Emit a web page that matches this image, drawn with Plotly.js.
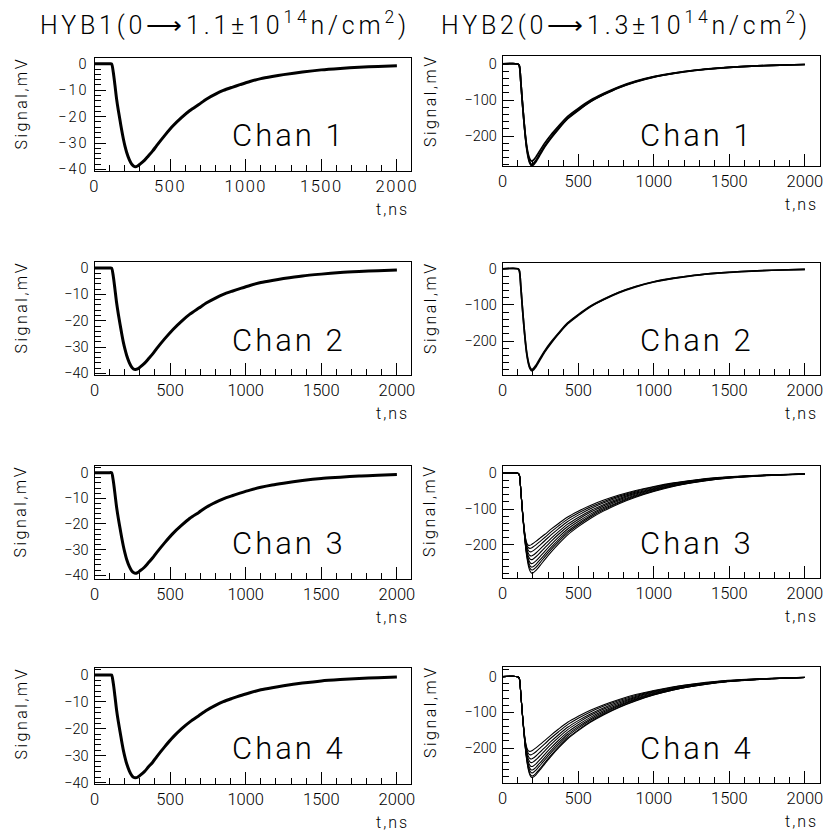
<!DOCTYPE html>
<html><head><meta charset="utf-8">
<script src="https://cdn.plot.ly/plotly-3.0.1.min.js"></script>
<style>
body{margin:0;background:#fff}
#plot .xtick text {letter-spacing:1.5px}
#plot .ytick text {letter-spacing:2px}
</style></head><body><div id="plot" style="width:833px;height:840px"></div>
<script>
// ---- data ----
const panelTitles = ["HYB1(0⟶1.1±10<sup>14</sup>n/cm<sup>2</sup>)", "HYB2(0⟶1.3±10<sup>14</sup>n/cm<sup>2</sup>)"];
const chanLabels = ["Chan 1", "Chan 2", "Chan 3", "Chan 4"];
const yTitle = "Signal,mV";
const xTitle = "t,ns";
const xTickVals = [0, 500, 1000, 1500, 2000];

// HYB1 time samples (ns)
const tHyb1 = [0,100,113,124,135,146,158,169,180,191,202,213,230,246,258,270,285,301,330,356,385,411,465,521,575,631,690,742,800,852,910,962,1028,1100,1175,1250,1375,1500,1625,1750,1875,2000];
const hyb1Chan1 = [0,0,0,-3.1,-8,-13.3,-17.8,-21.5,-25.2,-28.5,-31.3,-33.6,-36.3,-38,-38.7,-39,-38.7,-38,-36.6,-34.9,-33,-31,-27.1,-23.4,-20.4,-17.7,-15.4,-13.3,-11.5,-10.1,-8.9,-7.9,-6.7,-5.6,-4.8,-4.1,-3.1,-2.3,-1.75,-1.3,-1.0,-0.7];
const hyb1Chan2 = [0,0,0,-3,-7.9,-13.1,-17.6,-21.3,-24.9,-28.2,-30.9,-33.2,-35.9,-37.6,-38.3,-38.5,-38.3,-37.6,-36.2,-34.5,-32.6,-30.6,-26.8,-23.2,-20.2,-17.5,-15.2,-13.2,-11.4,-10,-8.8,-7.8,-6.6,-5.5,-4.7,-4,-3,-2.3,-1.7,-1.3,-1,-0.7];
const hyb1Chan3 = [0,0,0,-3.1,-8.1,-13.4,-18,-21.7,-25.4,-28.7,-31.5,-33.9,-36.6,-38.3,-39,-39.3,-39,-38.3,-36.9,-35.2,-33.2,-31.2,-27.3,-23.6,-20.6,-17.8,-15.5,-13.4,-11.6,-10.2,-9,-8,-6.8,-5.7,-4.8,-4.1,-3.1,-2.3,-1.8,-1.3,-1,-0.7];
const hyb1Chan4 = [0,0,0,-3,-7.8,-13,-17.5,-21.1,-24.7,-28,-30.7,-33,-35.6,-37.3,-38,-38.2,-38,-37.3,-35.9,-34.2,-32.4,-30.4,-26.6,-23,-20,-17.4,-15.1,-13.1,-11.3,-9.9,-8.7,-7.7,-6.6,-5.5,-4.7,-4,-3,-2.2,-1.7,-1.3,-1,-0.7];

// HYB2 time samples (ns)
const tHyb2 = [0,100,110,120,130,140,150,160,170,180,190,200,220,250,280,320,370,430,500,580,670,770,880,1000,1130,1270,1420,1580,1780,2000];
// channels 1-2: narrow band of pulses
const hyb2FastA = [0,0,-5,-49.8,-104.5,-153.9,-197.6,-230.6,-251.7,-264.1,-269.1,-267.8,-257.9,-237.8,-218.5,-196.4,-172.3,-145.4,-123.2,-100.9,-81.6,-63.2,-47.7,-35.1,-25.3,-17.6,-11.7,-7.3,-3.9,-1.5];
const hyb2FastB = [0,0,-5,-50,-105,-155,-200,-235,-258,-272,-278,-277,-267,-246,-226,-203,-178,-150,-127,-104,-84,-65,-49,-36,-26,-18,-12,-7.5,-4,-1.5];
const hyb2FastC = [0,0,-5,-50,-106,-157,-203,-239,-262,-276,-282,-281,-271,-250,-229,-206,-180,-152,-129,-105,-85,-66,-50,-36.5,-26.5,-18.3,-12.2,-7.6,-4,-1.5];
// channels 3-4: fan of pulses with growing amplitude
const hyb2Pulse1 = [0,0,-5,-48,-100,-145,-178,-195,-201,-201,-199,-196,-190,-180,-170,-156,-140,-122,-106,-90,-75,-61,-48,-37,-27,-19,-12.5,-8,-4.5,-2];
const hyb2Pulse2 = [0,0,-5,-48.2,-100.6,-146.2,-180.6,-199.8,-207.8,-209.5,-208.5,-205.8,-199.7,-189.1,-178.4,-163.7,-146.8,-128,-111.2,-94.3,-78.6,-63.9,-50.3,-38.7,-28.2,-19.8,-13,-8.4,-4.7,-2.1];
const hyb2Pulse3 = [0,0,-5,-48.5,-101.3,-147.5,-183.5,-205,-215.3,-218.8,-218.8,-216.5,-210.3,-199,-187.5,-172,-154.3,-134.5,-116.8,-99,-82.5,-67,-52.8,-40.5,-29.5,-20.8,-13.6,-8.8,-4.9,-2.1];
const hyb2Pulse4 = [0,0,-5,-48.8,-102,-149,-186.8,-211,-223.8,-229.4,-230.6,-228.8,-222.4,-210.4,-198,-181.6,-162.8,-142,-123.2,-104.4,-87,-70.6,-55.6,-42.6,-31,-21.8,-14.3,-9.2,-5.1,-2.2];
const hyb2Pulse5 = [0,0,-5,-49.1,-102.7,-150.3,-189.7,-216.2,-231.2,-238.6,-240.9,-239.5,-232.9,-220.3,-207.1,-189.9,-170.2,-148.5,-128.8,-109.1,-90.9,-73.7,-58.1,-44.4,-32.3,-22.7,-14.9,-9.6,-5.3,-2.3];
const hyb2Pulse6 = [0,0,-5,-49.3,-103.4,-151.7,-192.7,-221.8,-239.2,-248.6,-251.9,-250.9,-244.3,-230.9,-216.9,-198.9,-178.2,-155.5,-134.8,-114.1,-95.1,-77.1,-60.7,-46.4,-33.7,-23.7,-15.5,-10,-5.5,-2.3];
const hyb2Pulse7 = [0,0,-5,-49.6,-104,-152.9,-195.4,-226.6,-246,-257.1,-261.4,-260.8,-254,-240,-225.3,-206.6,-185,-161.5,-140,-118.4,-98.7,-80,-63,-48.1,-34.9,-24.5,-16.1,-10.4,-5.7,-2.4];
const hyb2Pulse8 = [0,0,-5,-49.8,-104.5,-153.9,-197.6,-230.6,-251.7,-264.2,-269.3,-269,-262.1,-247.6,-232.3,-213,-190.7,-166.5,-144.3,-122,-101.7,-82.4,-64.9,-49.5,-35.9,-25.2,-16.5,-10.7,-5.8,-2.4];
const hyb2Pulse9 = [0,0,-5,-50,-105,-155,-200,-235,-258,-272,-278,-278,-271,-256,-240,-220,-197,-172,-149,-126,-105,-85,-67,-51,-37,-26,-17,-11,-6,-2.5];
const hyb2Pulse10 = [0,0,-5,-50.1,-105.3,-155.5,-201.1,-237,-260.9,-275.6,-282,-282.1,-275.1,-259.8,-243.5,-223.2,-199.9,-174.5,-151.2,-127.8,-106.5,-86.2,-68,-51.7,-37.5,-26.4,-17.2,-11.2,-6.1,-2.5];

const hyb2Chan1 = [hyb2FastA, hyb2FastB, hyb2FastC];
const hyb2Chan2 = [hyb2FastB, hyb2FastC];
const hyb2Chan3 = [hyb2Pulse1, hyb2Pulse2, hyb2Pulse3, hyb2Pulse4, hyb2Pulse5, hyb2Pulse6, hyb2Pulse7, hyb2Pulse8, hyb2Pulse9];
const hyb2Chan4 = [hyb2Pulse2, hyb2Pulse3, hyb2Pulse4, hyb2Pulse5, hyb2Pulse6, hyb2Pulse7, hyb2Pulse8, hyb2Pulse9, hyb2Pulse10];

// ---- layout geometry (pixels) ----
const W = 833, H = 840;
const FONT = 'Roboto, "Liberation Sans", sans-serif';
const colX = [[94.5, 410.5], [502.7, 820]];
const colXMax = [2090, 2100];
const rowsL = [[58,171,-40.6,2.2],[262,375,-40.6,2.3],[466,579,-41.5,2.6],[668,784,-40.5,2.6]];
const rowsR = [[56,166,-283,22],[263,375,-294,16],[466,578,-292,20],[667,783,-298,27]];
const chanY = [136, 340, 543, 748];
const chanX = [289, 697];
const yTitleX = [20.5, 430];

const px = v => v / W, py = v => 1 - v / H;
const sp = (s, ls) => '<span style="letter-spacing:' + ls + 'px">' + s + '</span>';

const traces = [];
const layout = {
  width: W, height: H, margin: {l:0, r:0, t:0, b:0},
  paper_bgcolor: '#fff', plot_bgcolor: '#fff', showlegend: false,
  font: {family: FONT, color: '#000', weight: 300},
  annotations: []
};

const hyb1Sets = [hyb1Chan1, hyb1Chan2, hyb1Chan3, hyb1Chan4];
const hyb2Sets = [hyb2Chan1, hyb2Chan2, hyb2Chan3, hyb2Chan4];

let n = 0;
for (let r = 0; r < 4; r++) {
  for (let c = 0; c < 2; c++) {
    n++;
    const xk = 'xaxis' + (n === 1 ? '' : n), yk = 'yaxis' + (n === 1 ? '' : n);
    const xr = 'x' + (n === 1 ? '' : n), yr = 'y' + (n === 1 ? '' : n);
    const g = c === 0 ? rowsL[r] : rowsR[r];
    layout[xk] = {
      domain: [px(colX[c][0]), px(colX[c][1])], anchor: yr, range: [0, colXMax[c]],
      tickvals: xTickVals, ticks: 'inside', ticklen: 12, tickwidth: 1, tickcolor: '#000',
      minor: {dtick: 100, tick0: 0, ticks: 'inside', ticklen: 6, tickcolor: '#000', tickwidth: 1},
      showline: true, mirror: true, linecolor: '#000', linewidth: 1,
      showgrid: false, zeroline: false, fixedrange: true,
      tickfont: {size: 16.5, family: FONT, weight: 300}
    };
    layout[yk] = {
      domain: [py(g[1]), py(g[0])], anchor: xr, range: [g[2], g[3]],
      dtick: c === 0 ? 10 : 100, tick0: 0, ticks: 'inside', ticklen: 11, tickwidth: 1, tickcolor: '#000',
      minor: {dtick: c === 0 ? 2 : 20, tick0: 0, ticks: 'inside', ticklen: 6, tickcolor: '#000', tickwidth: 1},
      showline: true, mirror: true, linecolor: '#000', linewidth: 1,
      showgrid: false, zeroline: false, fixedrange: true, ticklabelstandoff: 2,
      tickfont: {size: 14.5, family: FONT, weight: 300}
    };
    if (c === 0) {
      traces.push({x: tHyb1, y: hyb1Sets[r], xaxis: xr, yaxis: yr, type: 'scatter', mode: 'lines',
        line: {color: '#000', width: 3, shape: 'spline', smoothing: 0.7}, hoverinfo: 'skip'});
    } else {
      const set = hyb2Sets[r];
      set.forEach(arr => traces.push({x: tHyb2, y: arr, xaxis: xr, yaxis: yr, type: 'scatter', mode: 'lines',
        line: {color: '#000', width: set.length > 3 ? 1.1 : 1.7, shape: 'spline', smoothing: 0.7}, hoverinfo: 'skip'}));
    }
    layout.annotations.push({xref: 'paper', yref: 'paper', x: px(chanX[c]), y: py(chanY[r]),
      xanchor: 'center', yanchor: 'middle', showarrow: false,
      text: sp(chanLabels[r], 3), font: {size: 31, family: FONT, weight: 300}});
    layout.annotations.push({xref: 'paper', yref: 'paper', x: px(yTitleX[c]), y: py(g[0] + 45),
      xanchor: 'center', yanchor: 'middle', showarrow: false, textangle: -90,
      text: sp(yTitle, 2.5), font: {size: 16, family: FONT, weight: 300}});
    layout.annotations.push({xref: 'paper', yref: 'paper', x: px(colX[c][1]), y: py(g[1] + 38),
      xanchor: 'right', yanchor: 'middle', showarrow: false,
      text: sp(xTitle, 2), font: {size: 16, family: FONT, weight: 300}});
  }
}
layout.annotations.push({xref: 'paper', yref: 'paper', x: px(225), y: py(23), xanchor: 'center', yanchor: 'middle',
  showarrow: false, text: sp(panelTitles[0], 3.8), font: {size: 25, family: FONT, weight: 300}});
layout.annotations.push({xref: 'paper', yref: 'paper', x: px(626), y: py(23), xanchor: 'center', yanchor: 'middle',
  showarrow: false, text: sp(panelTitles[1], 3.8), font: {size: 25, family: FONT, weight: 300}});

Plotly.newPlot('plot', traces, layout, {staticPlot: true, displayModeBar: false}).then(gd => {
  // drop empty placeholder text nodes left by the library
  gd.querySelectorAll('text').forEach(t => { if (!t.textContent.trim()) t.remove(); });
});
</script></body></html>
